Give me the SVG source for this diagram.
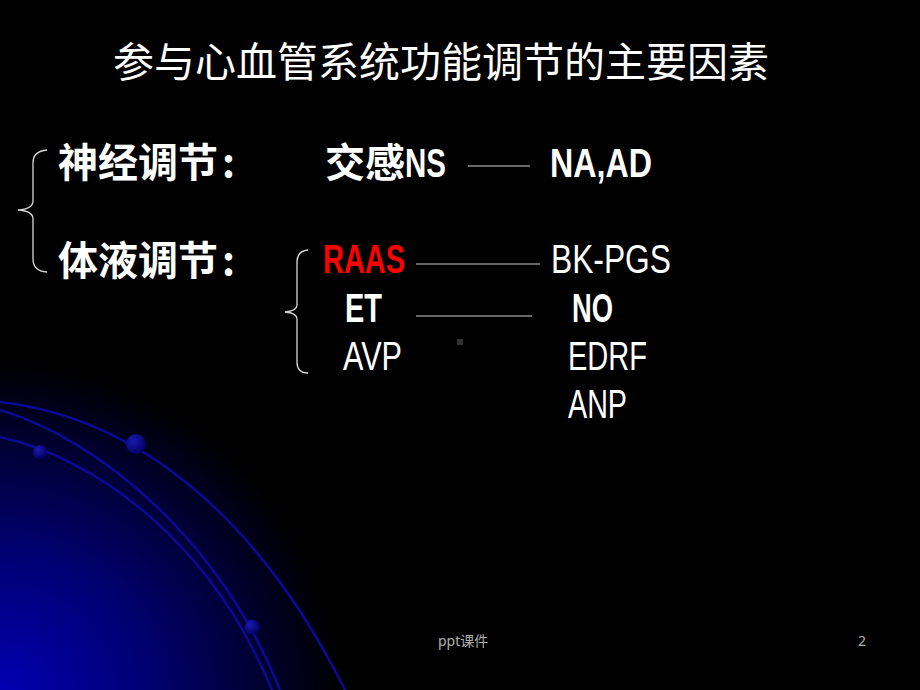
<svg xmlns="http://www.w3.org/2000/svg" width="920" height="690" viewBox="0 0 920 690">
<defs>
<radialGradient id="glow" cx="0" cy="700" r="340" gradientUnits="userSpaceOnUse">
<stop offset="0" stop-color="#0000b4"/>
<stop offset="0.45" stop-color="#000070"/>
<stop offset="1" stop-color="#000000"/>
</radialGradient>
<radialGradient id="ball" cx="0.35" cy="0.35" r="0.7">
<stop offset="0" stop-color="#1a1ab0"/>
<stop offset="1" stop-color="#000060"/>
</radialGradient>
<style>
.cn{font-family:"Noto Sans CJK SC","Noto Sans",sans-serif;fill:#fff}
.b{font-weight:bold}
.lat{font-family:"Liberation Sans","DejaVu Sans",sans-serif;font-size:40px;fill:#fff}
.arc{fill:none;stroke:#0a0a96;stroke-width:2.5}
.rule{stroke:#d0d0d0;stroke-width:1.2;fill:none}
.brace{stroke:#d8d8d8;stroke-width:1.3;fill:none}
.foot{font-family:"Noto Sans","Noto Sans CJK SC",sans-serif;font-size:14px;fill:#b0b0b0}
</style>
</defs>
<rect width="920" height="690" fill="#000"/>
<rect width="920" height="690" fill="url(#glow)"/>
<g id="decor">
<path class="arc" d="M0,402 C140,418 260,520 345,690"/>
<path class="arc" d="M0,410 C100,440 220,540 280,690"/>
<path class="arc" d="M0,437 C95,458 210,540 272,690"/>
<circle cx="40" cy="452" r="7" fill="url(#ball)"/>
<circle cx="136" cy="444" r="10" fill="url(#ball)"/>
<circle cx="252" cy="627" r="7.5" fill="url(#ball)"/>
</g>
<g id="title">
<text class="cn" x="113" y="77" font-size="41">参与心血管系统功能调节的主要因素</text>
</g>
<g id="neural">
<text class="cn b" x="58" y="177" font-size="40">神经调节<tspan x="222">:</tspan></text>
</g>
<g id="humoral">
<text class="cn b" x="58" y="275" font-size="40">体液调节<tspan x="222">:</tspan></text>
</g>
<g id="sympathetic">
<text class="cn b" x="325" y="177" font-size="40">交感</text>
<text class="lat b" x="405" y="177" textLength="41" lengthAdjust="spacingAndGlyphs">NS</text>
</g>
<g id="na-ad">
<text class="lat b" x="550" y="177" textLength="102" lengthAdjust="spacingAndGlyphs">NA,AD</text>
</g>
<g id="raas">
<text class="lat b" x="323" y="273" fill="#ff0000" style="fill:#ff0000" textLength="82" lengthAdjust="spacingAndGlyphs">RAAS</text>
</g>
<g id="bk-pgs">
<text class="lat" x="551" y="273" textLength="120" lengthAdjust="spacingAndGlyphs">BK-PGS</text>
</g>
<g id="et">
<text class="lat b" x="345" y="322" textLength="37" lengthAdjust="spacingAndGlyphs">ET</text>
</g>
<g id="no">
<text class="lat b" x="572" y="322" textLength="41" lengthAdjust="spacingAndGlyphs">NO</text>
</g>
<g id="avp">
<text class="lat" x="343" y="370" textLength="59" lengthAdjust="spacingAndGlyphs">AVP</text>
</g>
<g id="edrf">
<text class="lat" x="568" y="370" textLength="79" lengthAdjust="spacingAndGlyphs">EDRF</text>
</g>
<g id="anp">
<text class="lat" x="568" y="418" textLength="59" lengthAdjust="spacingAndGlyphs">ANP</text>
</g>
<g id="connectors">
<path class="brace" d="M47,150 Q33,151 33,163 L33,201 Q33,209 18,210 Q33,211 33,219 L33,259 Q33,271 47,272"/>
<path class="brace" d="M308,250 Q297,251 297,262 L297,305 Q297,311 285,312 Q297,313 297,319 L297,362 Q297,373 308,373"/>
<line class="rule" x1="468" y1="166" x2="530" y2="166"/>
<line class="rule" x1="416" y1="264" x2="540" y2="264"/>
<line class="rule" x1="416" y1="316" x2="532" y2="316"/>
</g>
<rect x="457" y="339" width="6" height="6" fill="#333"/>
<g id="footer">
<text class="foot" x="438" y="646">ppt课件</text>
<text class="foot" x="858" y="646">2</text>
</g>
</svg>
